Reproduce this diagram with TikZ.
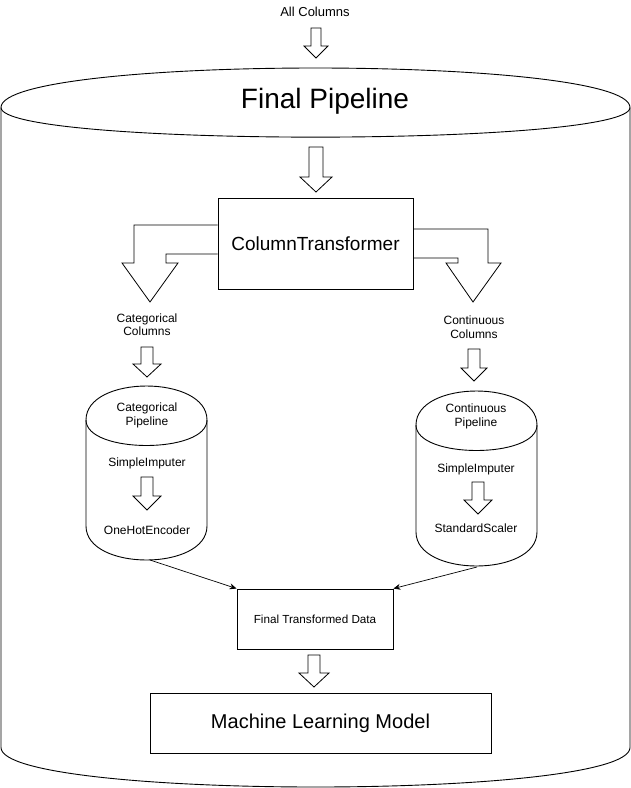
\documentclass[tikz,border=0pt]{standalone}
\usepackage{fontspec}
\setmainfont{Liberation Sans}
\usetikzlibrary{arrows.meta}
\newcommand{\blockarrow}[6]{%
  \draw[barrow] ({#1-#5},#2) -- ({#1+#5},#2) -- ({#1+#5},#3) -- ({#1+#6},#3) -- (#1,#4) -- ({#1-#6},#3) -- ({#1-#5},#3) -- cycle;}
\begin{document}
\begin{tikzpicture}[x=1pt,y=-1pt,line width=0.9pt,line join=miter,
  barrow/.style={draw=black,fill=white,line width=0.8pt},
  shapeline/.style={draw=black,line width=0.9pt},
  lbl/.style={font=\fontsize{12}{13.5}\selectfont,align=center,inner sep=0pt},
  boxnode/.style={draw=black,line width=0.9pt,inner sep=0pt},
  conn/.style={draw=black,line width=0.7pt,-{Stealth[length=7pt,width=6pt]}}]
\useasboundingbox (0,0) rectangle (631,788);
% big cylinder
\draw[shapeline] (1,107.5) .. controls (1,54.83) and (630,54.83) .. (630,107.5)
  -- (630,747.5) .. controls (630,800.17) and (1,800.17) .. (1,747.5) -- cycle;
\draw[shapeline] (1,107.5) .. controls (1,147) and (630,147) .. (630,107.5);
% left small cylinder
\draw[shapeline] (86,420) .. controls (86,374.67) and (207,374.67) .. (207,420)
  -- (207,526) .. controls (207,571.33) and (86,571.33) .. (86,526) -- cycle;
\draw[shapeline] (86,420) .. controls (86,454) and (207,454) .. (207,420);
% right small cylinder
\draw[shapeline] (416,425) .. controls (416,379.67) and (537,379.67) .. (537,425)
  -- (537,532) .. controls (537,577.33) and (416,577.33) .. (416,532) -- cycle;
\draw[shapeline] (416,425) .. controls (416,459) and (537,459) .. (537,425);
% texts
\node[lbl,font=\fontsize{13}{15}\selectfont] (allcols) at (315,12) {All Columns};
\node[lbl,font=\fontsize{28}{32}\selectfont] (finalpipe) at (325,101) {Final Pipeline};
\node[boxnode,minimum width=195pt,minimum height=91pt,font=\fontsize{19}{22}\selectfont] (ct) at (315.5,243.5) {ColumnTransformer};
\node[lbl] (catcols) at (147,324.5) {Categorical\\Columns};
\node[lbl] (contcols) at (474,327) {Continuous\\Columns};
\node[lbl] (catpipe) at (147,415.5) {Categorical\\Pipeline};
\node[lbl] (contpipe) at (476,416.5) {Continuous\\Pipeline};
\node[lbl] (catsi) at (147,463) {SimpleImputer};
\node[lbl] (ohe) at (147,530) {OneHotEncoder};
\node[lbl] (contsi) at (476,469) {SimpleImputer};
\node[lbl] (ss) at (476,528) {StandardScaler};
\node[boxnode,minimum width=156pt,minimum height=60pt,font=\fontsize{11.7}{13}\selectfont] (ftd) at (315,619) {Final Transformed Data};
\node[boxnode,minimum width=341pt,minimum height=60pt,font=\fontsize{20}{23}\selectfont] (mlm) at (320.5,723) {Machine Learning Model};
% block arrows
\blockarrow{316}{28}{46}{58}{5}{12}
\blockarrow{316}{147}{177}{192}{7}{16}
\blockarrow{147}{347}{364}{377}{6}{14}
\blockarrow{474}{349}{368}{381}{6}{13}
\blockarrow{147}{477}{496}{510}{6}{14}
\blockarrow{478}{482}{500}{514}{6}{14}
\blockarrow{314}{655}{673}{687}{6}{15}
% bent arrows from ColumnTransformer
\draw[barrow,fill=none] (ct.west |- 0,225) -- (134,225) -- (134,263) -- (122,263) -- (150,302) -- (178,263) -- (166,263) -- (166,254) -- (ct.west |- 0,254);
\draw[barrow,fill=none] (ct.east |- 0,229) -- (488,229) -- (488,263) -- (501,263) -- (473,302) -- (446,263) -- (458,263) -- (458,258) -- (ct.east |- 0,258);
% connectors
\coordinate (catbot) at (150,560);
\coordinate (contbot) at (477,567);
\draw[conn] (catbot) -- (ftd.north west);
\draw[conn] (contbot) -- (ftd.north east);
\end{tikzpicture}
\end{document}
